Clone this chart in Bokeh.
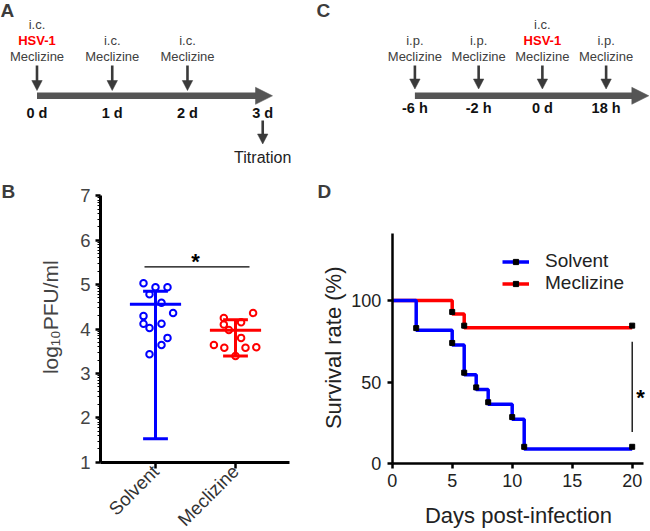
import math
from bokeh.plotting import figure
from bokeh.layouts import column, row
from bokeh.models import Range1d, FixedTicker, Legend, LegendItem
from bokeh.core.properties import value
from bokeh.embed import file_html
from bokeh.resources import INLINE

# ---------------- data ----------------
# Panel A: intracerebral schedule (days)
a_days = [0, 1, 2, 3]
a_day_labels = ["0 d", "1 d", "2 d", "3 d"]
a_route = ["i.c.", "i.c.", "i.c."]
a_virus = ["HSV-1", "", ""]
a_drug = ["Meclizine", "Meclizine", "Meclizine"]
a_end_label = "Titration"

# Panel C: intraperitoneal schedule
c_steps = [0, 1, 2, 3]
c_time_labels = ["-6 h", "-2 h", "0 d", "18 h"]
c_route = ["i.p.", "i.p.", "i.c.", "i.p."]
c_virus = ["", "", "HSV-1", ""]
c_drug = ["Meclizine", "Meclizine", "Meclizine", "Meclizine"]

# Panel B: brain titres (log10 PFU/ml)
groups = ["Solvent", "Meclizine"]
solvent_vals = [5.03, 4.94, 4.94, 4.78, 4.59, 4.36, 4.29, 4.12, 4.12, 4.02, 3.80, 3.64, 3.43]
solvent_jitter = [-0.15, 0.0, 0.15, -0.075, 0.075, 0.22, -0.15, -0.15, 0.075, -0.075, 0.15, 0.075, -0.075]
meclizine_vals = [4.25, 4.36, 4.15, 4.10, 3.98, 3.80, 3.64, 3.58, 3.58, 3.59, 3.39]
meclizine_jitter = [-0.146, 0.22, 0.07, -0.146, -0.083, 0.07, -0.27, -0.14, 0.125, 0.26, 0.0]
group_mean = [4.56, 3.97]
group_upper = [4.85, 4.21]
group_lower = [1.53, 3.39]
sig_b_level = 5.40

# Panel D: survival (%)
solvent_days = [0, 2, 5, 6, 7, 8, 10, 11, 20]
solvent_surv = [100, 81.8, 72.7, 54.5, 45.5, 36.4, 27.3, 9.1, 9.1]
meclizine_days = [0, 5, 6, 20]
meclizine_surv = [100, 91.7, 83.3, 83.3]
sig_d_range = [19.4, 74.8]

# ---------------- style ----------------
FONT = "Liberation Sans"
TOP_H, BOT_H = 170, 360
A_W, C_W = 310, 340
B_W, D_W = 311, 339
TXT_GRAY = "#404040"
LETTER = "#3c3c3c"
ARROW_MAIN = "#555555"
ARROW_DOWN = "#3a3a3a"
BLUE = "#0000ff"
RED = "#ff0000"
BASELINE_FIX = 0.31   # em, compensates the renderer's baseline placement


def fs(px):
    return f"{px:.1f}px"


def base_fig(width, height, xr, yr, **kw):
    p = figure(width=width, height=height, x_range=xr, y_range=yr,
               output_backend="svg", toolbar_location=None, min_border=0, **kw)
    p.xgrid.visible = False
    p.ygrid.visible = False
    p.outline_line_color = None
    return p


def add_text(p, xs, ys_px, texts, size, color, yconv=lambda r: r, bold=False,
             align="center", baseline="alphabetic", angle=0.0):
    shift = BASELINE_FIX * size if baseline == "alphabetic" else 0.0
    ys = [yconv(y - shift) for y in ys_px]
    p.text(x=xs, y=ys, text=texts, angle=angle, text_font=value(FONT),
           text_font_size=value(fs(size)), text_color=color,
           text_align=align, text_baseline=baseline,
           text_font_style="bold" if bold else "normal")


def down_arrows(p, xs, y0, ytip, ppu):
    hw = 5.2 / ppu
    m = len(xs)
    p.segment(x0=xs, y0=[y0] * m, x1=xs, y1=[ytip - 8] * m,
              line_width=2.6, line_color=ARROW_DOWN)
    p.patches(xs=[[x - hw, x + hw, x] for x in xs], ys=[[ytip - 10, ytip - 10, ytip]] * m,
              fill_color=ARROW_DOWN, line_color=ARROW_DOWN, line_width=0.5)


def timeline(width, ref_x0, origin, ppu, xs, tip_ref, down_tip, routes, viruses, drugs,
             tick_labels, tick_base, letter, letter_ref_x):
    conv = lambda r: (r - origin) / ppu
    p = base_fig(width, TOP_H, Range1d(conv(ref_x0), conv(ref_x0 + width)),
                 Range1d(TOP_H, 0), x_axis_location=None, y_axis_location=None)
    # main time arrow
    y = 95.3
    tip = conv(tip_ref)
    hb = conv(tip_ref - 17)
    p.segment(x0=[xs[0]], y0=[y], x1=[conv(tip_ref - 15)], y1=[y],
              line_width=6.5, line_color=ARROW_MAIN)
    p.patch(x=[tip, hb, hb], y=[y, y - 8.5, y + 8.5],
            fill_color=ARROW_MAIN, line_color=ARROW_MAIN, line_width=0.5)
    # injection arrows
    n = len(drugs)
    ex = xs[:n]
    down_arrows(p, ex, 65, down_tip, ppu)
    # stacked labels
    pitch = 15.9
    add_text(p, ex, [60] * n, drugs, 13, TXT_GRAY)
    vx = [x for x, v in zip(ex, viruses) if v]
    add_text(p, vx, [60 - pitch] * len(vx), [v for v in viruses if v], 13, RED, bold=True)
    ry = [60 - pitch * (2 if v else 1) for v in viruses]
    add_text(p, ex, ry, routes, 13, TXT_GRAY)
    add_text(p, xs, [tick_base] * len(xs), tick_labels, 14.5, "#111111", bold=True)
    add_text(p, [conv(letter_ref_x)], [16], [letter], 19, LETTER, bold=True, align="left")
    return p


# ---------------- panel A ----------------
A_ORIGIN, A_PPU = 36.5, 75.24
pA = timeline(A_W, 0, A_ORIGIN, A_PPU, a_days, 272, 90, a_route, a_virus, a_drug,
              a_day_labels, 116.7, "A", 0)
down_arrows(pA, [a_days[-1]], 120, 143.5, A_PPU)
add_text(pA, [a_days[-1]], [161.7], [a_end_label], 16, "#222222")

# ---------------- panel C ----------------
C_ORIGIN, C_PPU = 414.4, 63.74
pC = timeline(C_W, A_W, C_ORIGIN, C_PPU, c_steps, 648.3, 88.5, c_route, c_virus, c_drug,
              c_time_labels, 111.7, "C", 316)


# ---------------- axis styling helper ----------------
def style_axis(a, lw, tick_font, tick_color):
    a.axis_line_width = lw
    a.axis_line_color = "black"
    a.major_tick_line_width = 2.5
    a.major_tick_in = 0
    a.major_tick_out = 5
    a.minor_tick_in = 0
    a.minor_tick_out = 3
    a.minor_tick_line_width = 1.2
    a.major_label_text_font = FONT
    a.major_label_text_font_size = fs(tick_font)
    a.major_label_text_color = tick_color


# ---------------- panel B ----------------
bx = lambda r: 1 + (r - 155) / 80.0
by = lambda r: 1 + (461.7 - r) / 44.4
B_Y0 = TOP_H
pB = base_fig(B_W, BOT_H, Range1d(bx(0), bx(B_W)), Range1d(by(B_Y0 + BOT_H), by(B_Y0)))
yaxB = pB.yaxis[0]
xaxB = pB.xaxis[0]
yaxB.fixed_location = bx(100)
yaxB.bounds = (1, 7)
xaxB.fixed_location = 1
xaxB.bounds = (bx(100), bx(289))
yaxB.ticker = FixedTicker(ticks=list(range(1, 8)),
                          minor_ticks=[n + math.log10(k) for n in range(1, 7) for k in range(2, 10)])
xaxB.ticker = FixedTicker(ticks=[1, 2])
xaxB.major_label_overrides = {1: groups[0], 2: groups[1]}
style_axis(yaxB, 3, 18.5, "#444444")
style_axis(xaxB, 3, 18.5, "#333333")
xaxB.major_tick_out = 6
xaxB.minor_tick_line_color = None
xaxB.major_label_orientation = math.pi / 4
xaxB.major_label_standoff = 0
yaxB.major_label_standoff = 5

cats = [1, 2]
cols = [BLUE, RED]
pB.segment(x0=cats, y0=group_lower, x1=cats, y1=group_upper, line_color=cols, line_width=3)
pB.segment(x0=[c - 0.32 for c in cats], y0=group_mean, x1=[c + 0.32 for c in cats], y1=group_mean,
           line_color=cols, line_width=3)
pB.segment(x0=[c - 0.155 for c in cats], y0=group_upper, x1=[c + 0.155 for c in cats], y1=group_upper,
           line_color=cols, line_width=3)
pB.segment(x0=[c - 0.155 for c in cats], y0=group_lower, x1=[c + 0.155 for c in cats], y1=group_lower,
           line_color=cols, line_width=3)
pB.scatter([cats[0] + j for j in solvent_jitter], solvent_vals, marker="circle", size=6.5,
           fill_color=None, line_color=BLUE, line_width=2)
pB.scatter([cats[1] + j for j in meclizine_jitter], meclizine_vals, marker="circle", size=6.5,
           fill_color=None, line_color=RED, line_width=2)
pB.segment(x0=[bx(144)], y0=[sig_b_level], x1=[bx(249)], y1=[sig_b_level],
           line_color="black", line_width=1.3)
add_text(pB, [bx(195)], [267.5], ["*"], 22, "black", yconv=by, bold=True)
add_text(pB, [bx(50)], [316.7], ["log\u2081\u2080PFU/ml"], 21, "#444444", yconv=by,
         baseline="middle", angle=math.pi / 2)
add_text(pB, [bx(1)], [197], ["B"], 19, LETTER, yconv=by, bold=True, align="left")

# ---------------- panel D ----------------
D_X0 = B_W
dx = lambda r: (r - 391.7) / 12.0
dy = lambda r: (463.3 - r) / 1.633
pD = base_fig(D_W, BOT_H, Range1d(dx(D_X0), dx(D_X0 + D_W)), Range1d(dy(B_Y0 + BOT_H), dy(B_Y0)))
xaxD = pD.xaxis[0]
yaxD = pD.yaxis[0]
yaxD.fixed_location = 0
yaxD.bounds = (0, dy(233.3))
xaxD.fixed_location = 0
xaxD.bounds = (0, dx(643.3))
xaxD.ticker = FixedTicker(ticks=[0, 5, 10, 15, 20])
yaxD.ticker = FixedTicker(ticks=[0, 50, 100])
for a in (xaxD, yaxD):
    style_axis(a, 2.5, 18, "#222222")
    a.minor_tick_line_color = None
xaxD.major_label_standoff = 5
yaxD.major_label_standoff = 6

r_mec = pD.step(meclizine_days, meclizine_surv, mode="after", line_color=RED, line_width=3.5)
r_sol = pD.step(solvent_days, solvent_surv, mode="after", line_color=BLUE, line_width=3.5)
mark_lift = 1.3
m_mec = pD.scatter(meclizine_days[1:], [v + mark_lift for v in meclizine_surv[1:]],
                   marker="square", size=5, color="black")
m_sol = pD.scatter(solvent_days[1:], [v + mark_lift for v in solvent_surv[1:]],
                   marker="square", size=5, color="black")
pD.segment(x0=[solvent_days[-1]], y0=[sig_d_range[0]], x1=[solvent_days[-1]], y1=[sig_d_range[1]],
           line_color="black", line_width=1.3)
add_text(pD, [dx(640)], [404], ["*"], 22, "black", yconv=dy, bold=True)
add_text(pD, [dx(317)], [197], ["D"], 19, LETTER, yconv=dy, bold=True, align="left")
add_text(pD, [dx(332.5)], [347.3], ["Survival rate (%)"], 22, "#222222", yconv=dy,
         baseline="middle", angle=math.pi / 2)
add_text(pD, [dx(518)], [521.5], ["Days post-infection"], 22, "#222222", yconv=dy)

legend = Legend(items=[LegendItem(label="Solvent", renderers=[r_sol, m_sol]),
                       LegendItem(label="Meclizine", renderers=[r_mec, m_mec])],
                location=(191, 236), padding=0, margin=0, spacing=0,
                glyph_width=27, glyph_height=13, label_standoff=16,
                border_line_color=None, background_fill_alpha=0,
                label_text_font=FONT, label_text_font_size=fs(19),
                label_text_color="#222222")
pD.add_layout(legend)

layout = column(row(pA, pC), row(pB, pD))
open("out.html", "w").write(file_html(layout, INLINE))
